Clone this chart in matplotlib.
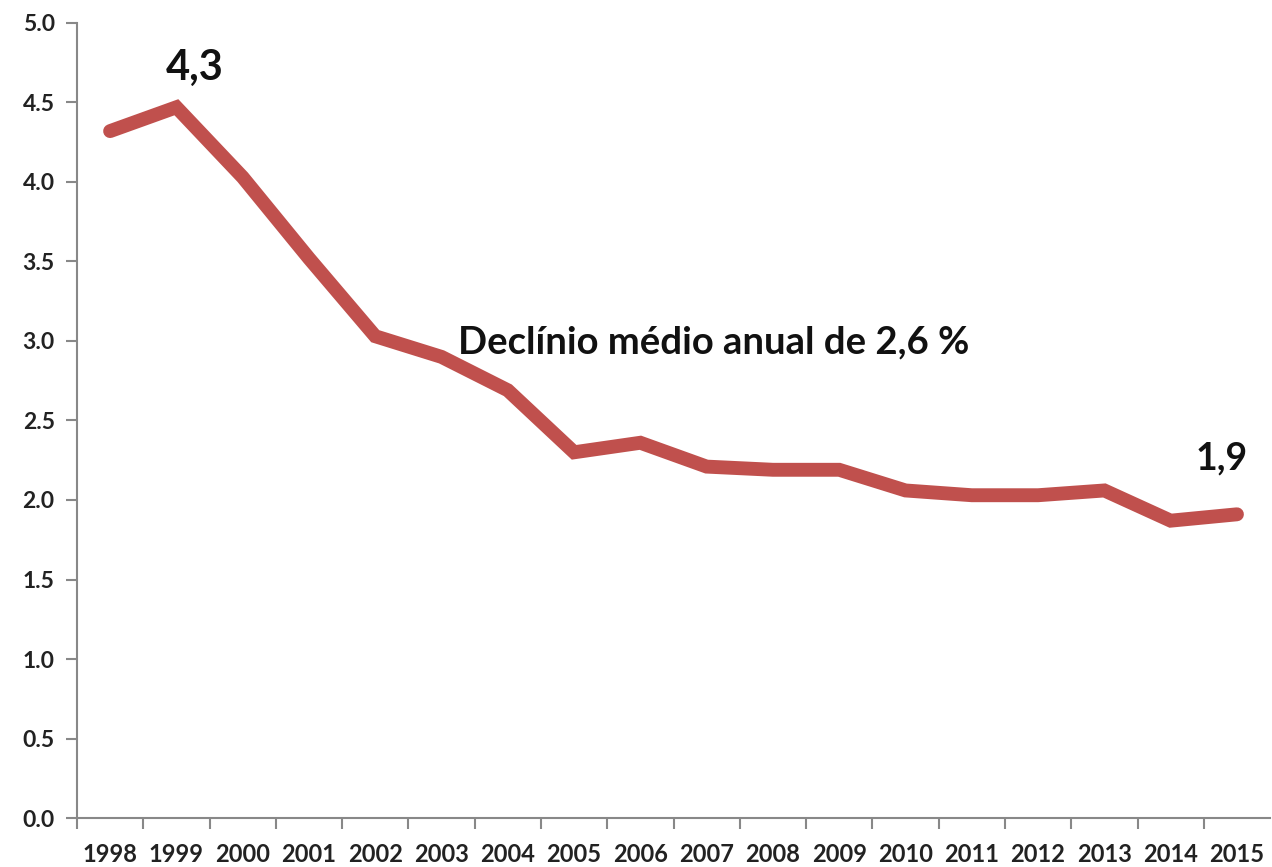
import numpy as np
from matplotlib import pyplot as plt

years = ['1998', '1999', '2000', '2001', '2002', '2003', '2004', '2005', '2006',
         '2007', '2008', '2009', '2010', '2011', '2012', '2013', '2014', '2015']
values = [4.32, 4.47, 4.03, 3.52, 3.03, 2.90, 2.69, 2.30, 2.36,
          2.21, 2.19, 2.19, 2.06, 2.03, 2.03, 2.06, 1.87, 1.91]
yticks = [0.0, 0.5, 1.0, 1.5, 2.0, 2.5, 3.0, 3.5, 4.0, 4.5, 5.0]

plt.rcParams['font.family'] = ['Lato', 'DejaVu Sans']

fig = plt.figure(figsize=(12.72, 8.67), dpi=100)
ax = fig.add_axes([0.0605, 0.0565, 0.938, 0.917])

x = np.arange(len(years))
ax.plot(x, values, color='#C0504D', lw=10, solid_capstyle='round',
        solid_joinstyle='miter')

ax.set_xlim(-0.5, len(years) - 0.5)
ax.set_ylim(0, 5)

# category labels centred, tick marks between categories (excel style)
ax.set_xticks(x)
ax.set_xticklabels(years, fontsize=17, fontweight='bold', color='#222222')
ax.set_xticks(np.arange(len(years)) - 0.5, minor=True)
ax.tick_params(axis='x', which='major', length=0, pad=18)
ax.tick_params(axis='x', which='minor', length=8, width=1.5, color='#888888')

ax.set_yticks(yticks)
ax.set_yticklabels([f'{v:.1f}' for v in yticks], fontsize=16.5,
                   fontweight='bold', color='#222222')
ax.tick_params(axis='y', length=8, width=1.5, color='#888888', pad=8)

for s in ['top', 'right']:
    ax.spines[s].set_visible(False)
for s in ['left', 'bottom']:
    ax.spines[s].set_color('#888888')
    ax.spines[s].set_linewidth(1.5)

ax.text(1.28, 4.72, '4,3', fontsize=30, fontweight='bold', ha='center',
        va='center', color='#111111')
ax.text(16.77, 2.26, '1,9', fontsize=27, fontweight='bold', ha='center',
        va='center', color='#111111')
ax.text(5.25, 2.99, 'Declínio médio anual de 2,6 %', fontsize=27.5,
        fontweight='bold', ha='left', va='center', color='#111111')

fig.savefig('out.png', dpi=100)
